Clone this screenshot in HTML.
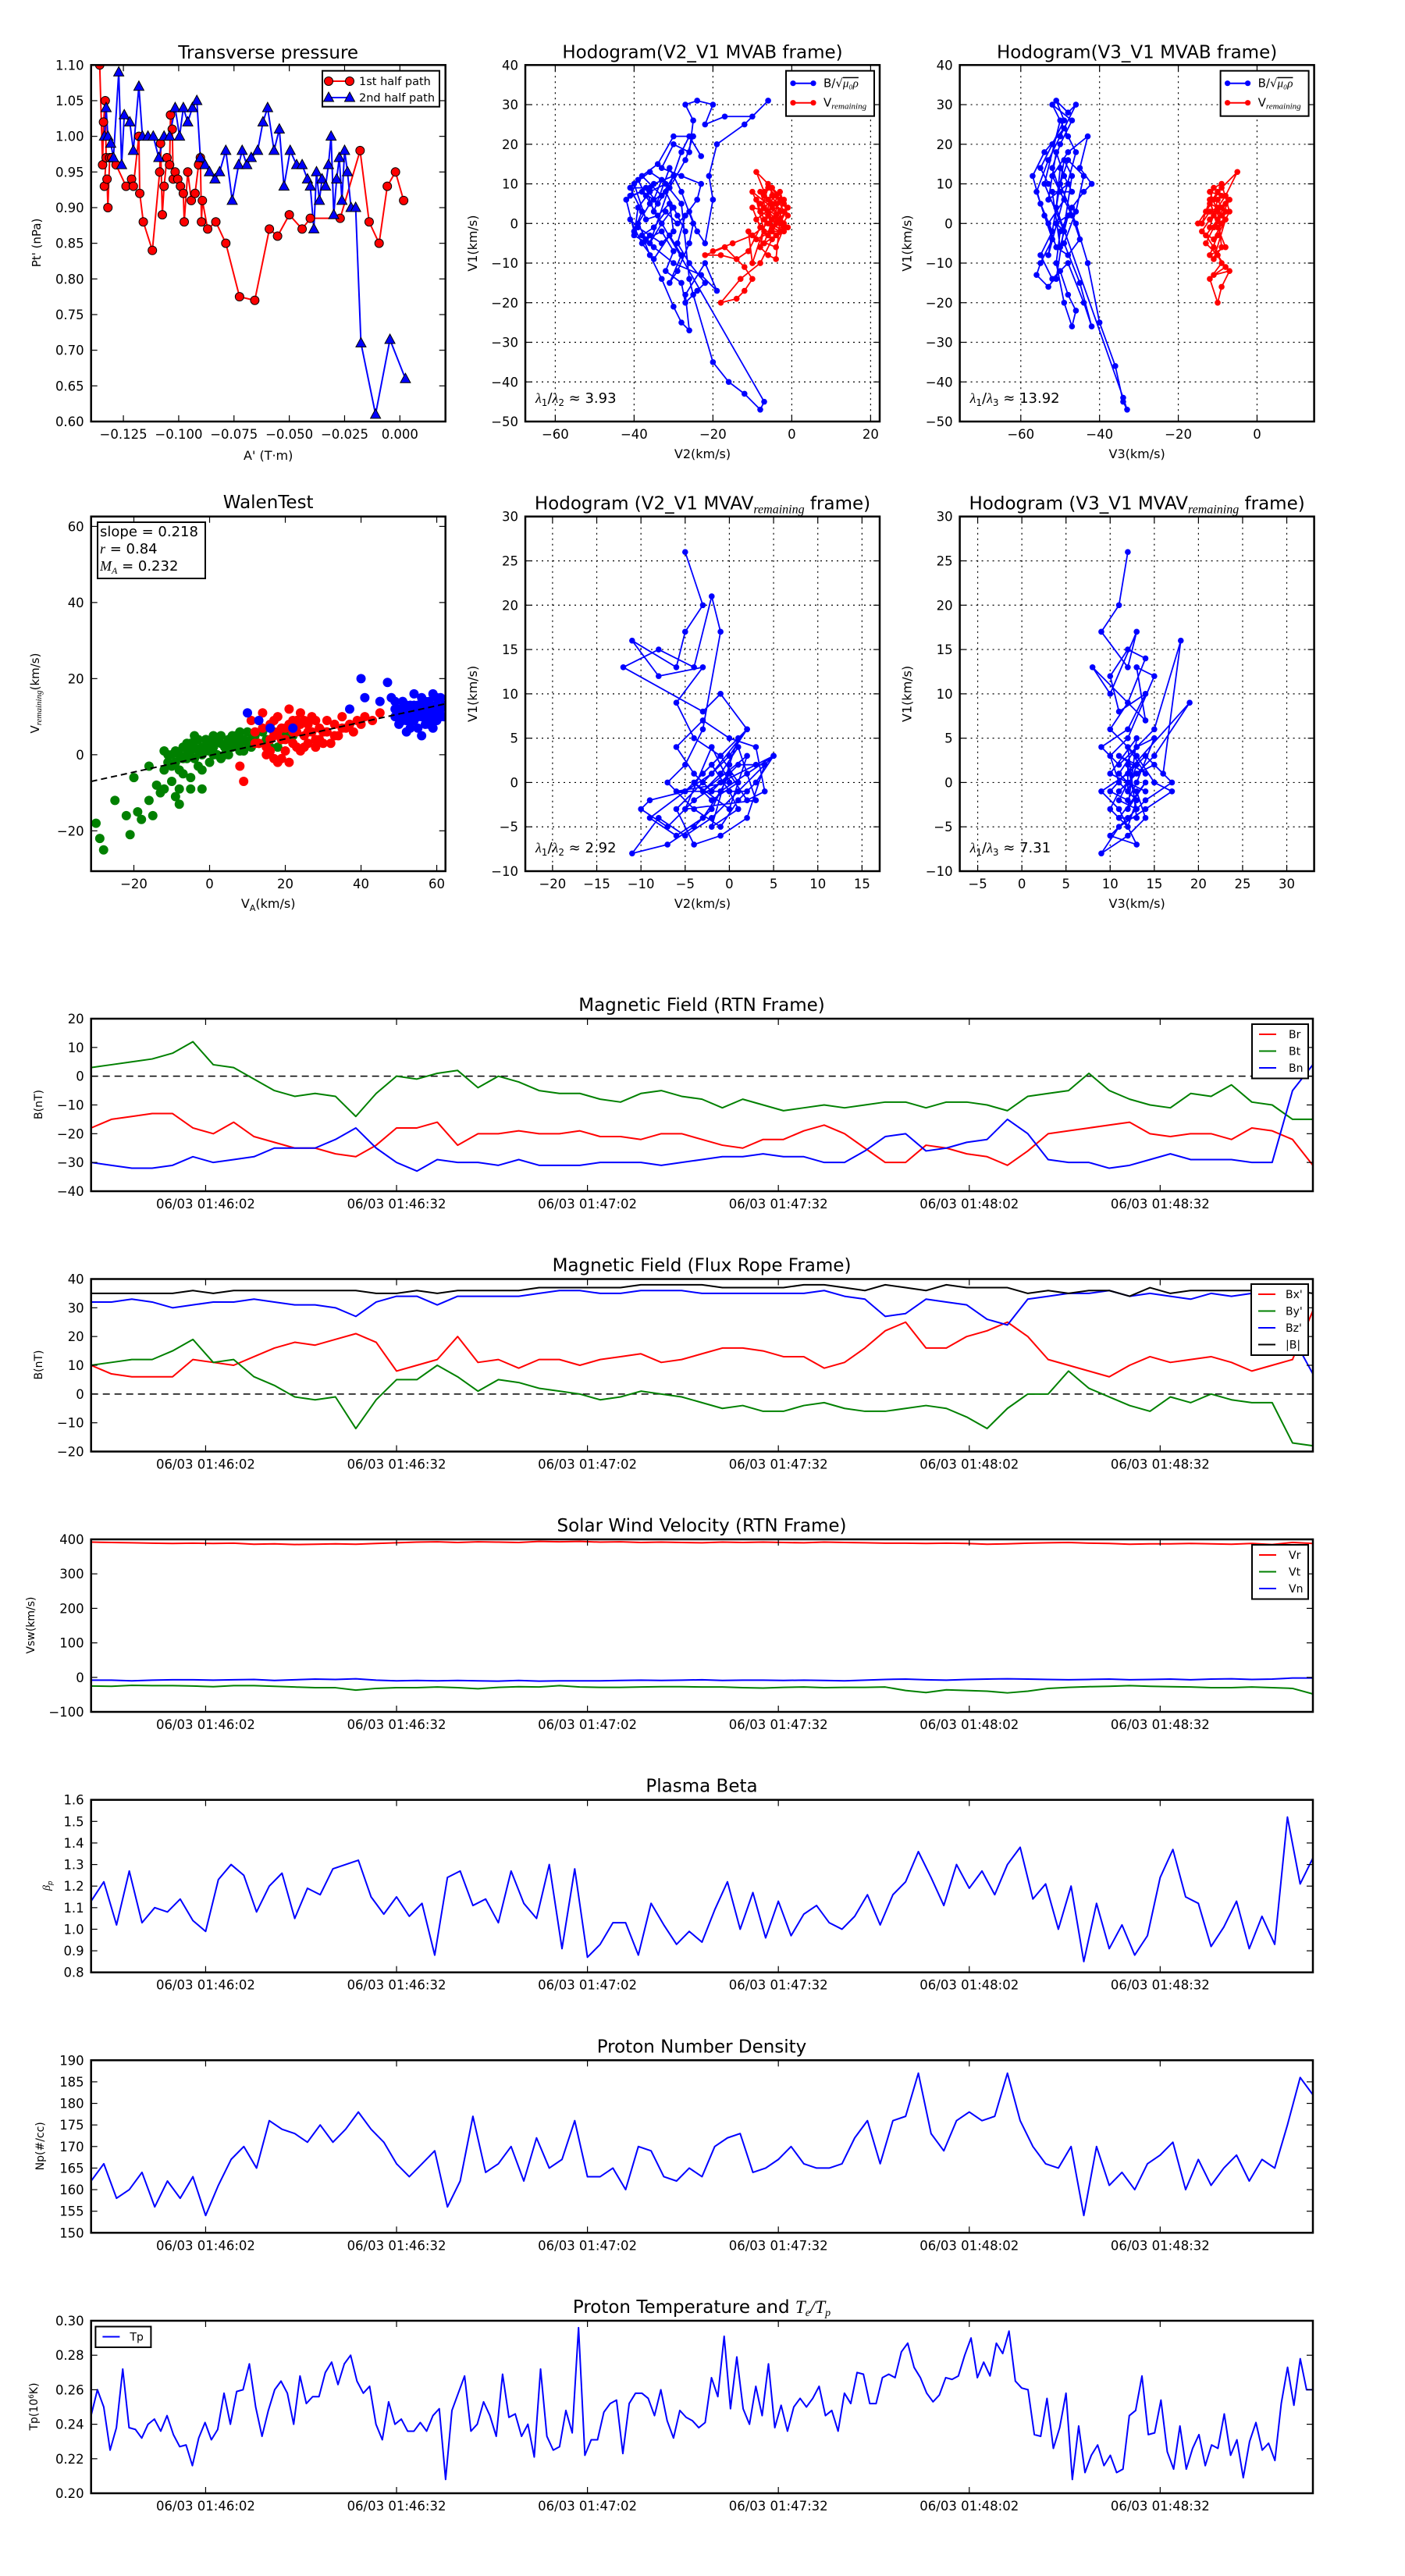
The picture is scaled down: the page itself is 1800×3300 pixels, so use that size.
<!DOCTYPE html>
<html><head><meta charset="utf-8"><title>Flux rope analysis</title>
<style>
html,body{margin:0;padding:0;background:#fff;}
svg{display:block;font-family:"DejaVu Sans","Liberation Sans",sans-serif;}
</style></head>
<body>
<svg id="fig" xmlns="http://www.w3.org/2000/svg" width="1800" height="3300" viewBox="0 0 1800 3300">
<rect x="0" y="0" width="1800" height="3300" fill="#fff"/>
</svg>
<script>
// ---------------- DATA ----------------
const ptA1=[-0.1357,-0.1344,-0.1340,-0.1332,-0.1328,-0.1336,-0.1324,-0.1320,-0.1312,-0.1303,-0.1283,-0.1238,-0.1213,-0.1205,-0.1180,-0.1176,-0.1160,-0.1119,-0.1086,-0.1082,-0.1074,-0.1066,-0.1053,-0.1041,-0.1037,-0.1029,-0.1025,-0.1016,-0.1004,-0.0992,-0.0979,-0.0975,-0.0959,-0.0943,-0.0926,-0.0910,-0.0902,-0.0897,-0.0893,-0.0869,-0.0832,-0.0787,-0.0725,-0.0656,-0.0590,-0.0553,-0.0500,-0.0442,-0.0405,-0.0270,-0.0180,-0.0139,-0.0094,-0.0057,-0.0020,0.0017];
const ptP1=[1.10,0.96,1.02,1.05,0.97,0.93,0.94,0.90,0.97,0.97,0.96,0.93,0.94,0.93,1.00,0.92,0.88,0.84,0.95,0.99,0.89,0.93,0.97,0.96,1.03,1.01,0.94,0.95,0.94,0.93,0.92,0.88,0.95,0.91,0.92,0.96,0.97,0.88,0.91,0.87,0.88,0.85,0.775,0.77,0.87,0.86,0.89,0.87,0.885,0.885,0.98,0.88,0.85,0.93,0.95,0.91];
const ptA2=[-0.1336,-0.1328,-0.1320,-0.1307,-0.1295,-0.1271,-0.1258,-0.1246,-0.1221,-0.1205,-0.1180,-0.1164,-0.1139,-0.1115,-0.1090,-0.1066,-0.1041,-0.1016,-0.0996,-0.0979,-0.0959,-0.0938,-0.0918,-0.0902,-0.0881,-0.0861,-0.0836,-0.0815,-0.0787,-0.0758,-0.0729,-0.0713,-0.0692,-0.0672,-0.0643,-0.0619,-0.0598,-0.0569,-0.0545,-0.0524,-0.0496,-0.0467,-0.0442,-0.0418,-0.0405,-0.0389,-0.0377,-0.0364,-0.0352,-0.0336,-0.0323,-0.0311,-0.0299,-0.0286,-0.0274,-0.0262,-0.0250,-0.0237,-0.0221,-0.0200,-0.0176,-0.0110,-0.0045,0.0025];
const ptP2=[1.00,1.04,1.00,0.99,0.97,1.09,0.96,1.03,1.02,0.98,1.07,1.00,1.00,1.00,0.97,1.00,1.00,1.04,1.00,1.04,1.02,1.04,1.05,0.97,0.96,0.95,0.94,0.95,0.98,0.91,0.96,0.98,0.96,0.97,0.98,1.02,1.04,0.98,1.01,0.93,0.98,0.96,0.96,0.94,0.93,0.87,0.95,0.91,0.94,0.93,0.96,1.00,0.89,0.94,0.97,0.91,0.98,0.95,0.90,0.90,0.71,0.61,0.715,0.66];
const ptXTicks=[-0.125,-0.100,-0.075,-0.050,-0.025,0.000];
const ptXLabels=["\u22120.125","\u22120.100","\u22120.075","\u22120.050","\u22120.025","0.000"];
const ptYTicks=[0.60,0.65,0.70,0.75,0.80,0.85,0.90,0.95,1.00,1.05,1.10];
const ptYLabels=["0.60","0.65","0.70","0.75","0.80","0.85","0.90","0.95","1.00","1.05","1.10"];

const h1B=[[-36,9],[-41,9],[-38,3],[-40,-2],[-42,6],[-35,10],[-30,12],[-33,7],[-38,12],[-34,15],[-30,22],[-25,22],[-27,16],[-31,9],[-36,5],[-39,0],[-37,-4],[-33,-2],[-30,-7],[-32,-12],[-28,-15],[-27,-20],[-24,-17],[-22,-15],[-26,-10],[-29,-5],[-27,2],[-24,6],[-23,10],[-28,12],[-33,14],[-30,20],[-26,18],[-25,26],[-27,30],[-24,31],[-20,30],[-22,25],[-17,27],[-10,27],[-6,31],[-12,25],[-19,20],[-21,12],[-20,6],[-22,-5],[-24,-2],[-26,3],[-29,0],[-32,3],[-35,-1],[-38,-3],[-36,-8],[-33,-14],[-30,-21],[-28,-25],[-26,-27],[-27,-18],[-22,-10],[-19,-17],[-23,-13],[-30,-10],[-35,-6],[-40,-3],[-39,4],[-36,8],[-32,10],[-28,5],[-26,-14],[-25,-18],[-20,-35],[-16,-40],[-12,-43],[-8,-47],[-7,-45],[-37,7],[-39,11],[-41,7],[-38,8],[-35,6],[-33,11],[-36,13],[-40,10],[-37,1],[-34,2],[-31,5],[-30,-2],[-33,-5],[-36,-3],[-39,-1],[-41,1],[-38,-5],[-35,-9],[-31,-3],[-28,-8],[-31,-15],[-29,-12],[-26,-5],[-25,0],[-28,8],[-31,14],[-35,3],[-37,9],[-34,5],[-32,8],[-29,2],[-27,-2],[-30,4],[-33,0],[-36,-5],[-28,18],[-26,22],[-23,17]];
const h1V=[[-20,-7],[-15,-5],[-10,-3],[-6,0],[-3,3],[-5,7],[-8,5],[-4,2],[-2,5],[-6,10],[-9,13],[-7,8],[-3,0],[-1,4],[-5,-2],[-9,-4],[-4,-6],[-2,-1],[-6,3],[-10,4],[-8,-1],[-11,-7],[-14,-9],[-18,-8],[-22,-8],[-17,-6],[-12,-11],[-10,-14],[-12,-17],[-14,-19],[-18,-20],[-13,-14],[-8,-10],[-5,-4],[-2,-2],[-7,1],[-10,8],[-5,4],[-3,8],[-1,2],[-4,-3],[-7,-5],[-3,6],[-6,9],[-8,3],[-2,0],[-4,5],[-9,1],[-6,-3],[-3,3],[-5,1],[-7,4],[-4,7],[-2,3],[-6,6],[-8,8],[-5,-1],[-3,-2],[-7,-2],[-9,6],[-4,0],[-6,2],[-2,6],[-5,9],[-8,-6],[-6,-8],[-4,-9],[-3,1],[-1,-1],[-7,7],[-5,5],[-10,-10],[-11,-2]];
const h2B=[[-53,10],[-55,14],[-52,20],[-49,26],[-51,31],[-48,28],[-46,30],[-50,22],[-53,16],[-56,8],[-54,2],[-52,-4],[-55,-10],[-56,-13],[-53,-16],[-50,-12],[-48,-18],[-46,-22],[-47,-26],[-49,-20],[-51,-10],[-50,-2],[-47,4],[-44,8],[-42,10],[-45,14],[-43,22],[-48,18],[-52,12],[-49,6],[-53,0],[-51,-6],[-48,-8],[-45,-4],[-47,2],[-50,8],[-52,14],[-50,20],[-47,26],[-52,30],[-49,24],[-54,18],[-57,12],[-55,5],[-52,-2],[-55,-8],[-52,-14],[-48,-10],[-44,-20],[-42,-26],[-45,-15],[-49,-5],[-46,3],[-44,12],[-48,16],[-50,10],[-46,0],[-43,-10],[-40,-25],[-36,-36],[-34,-45],[-33,-47],[-34,-44],[-51,4],[-50,14],[-48,10],[-53,6],[-51,18],[-49,12],[-47,8],[-52,8],[-50,-6],[-48,2],[-51,0],[-49,-2],[-54,10],[-50,26],[-48,22],[-46,18],[-53,-8],[-49,16],[-47,12],[-51,-14]];
const h2V=[[-15,0],[-13,3],[-11,6],[-9,9],[-5,13],[-8,7],[-10,4],[-12,1],[-14,-2],[-11,-4],[-9,0],[-8,3],[-12,5],[-10,8],[-7,6],[-9,2],[-11,-1],[-13,-5],[-10,-8],[-8,-11],[-11,-13],[-7,-12],[-9,-16],[-10,-20],[-12,-14],[-9,-10],[-11,-6],[-13,-3],[-10,1],[-8,5],[-12,3],[-14,0],[-11,9],[-9,10],[-7,3],[-10,-3],[-12,-8],[-8,-6],[-10,-1],[-12,6],[-11,2],[-9,4],[-10,6],[-12,-1],[-8,1],[-11,-9],[-9,-6],[-10,3],[-12,8],[-9,7]];
const h3=[[-5,26],[-3,20],[-5,17],[-6,13],[-11,16],[-8,12],[-3,13],[-6,9],[-4,5],[-1,3],[2,6],[-2,1],[-5,-1],[-9,-2],[-10,-3],[-7,-5],[-4,-2],[-1,0],[3,2],[5,3],[1,-1],[-2,-4],[-5,-6],[-8,-4],[-11,-8],[-7,-7],[-4,-5],[-2,-3],[0,1],[2,-2],[4,-1],[3,4],[0,5],[-3,7],[-6,4],[-4,1],[-2,-1],[1,2],[4,2],[2,-4],[-1,-6],[-4,-7],[-6,-3],[-3,0],[0,3],[2,6],[-1,10],[-3,8],[-12,13],[-8,15],[-4,13],[-2,21],[-1,17],[-3,6],[-5,2],[-7,0],[-4,-3],[-1,-5],[1,-2],[3,0],[5,3],[2,1],[-1,-1],[-3,-4],[-6,-6],[-9,-4],[-5,-1],[-2,2],[0,-1],[1,-3],[-2,-5],[0,2],[1,5],[-3,1],[-1,3],[1,0],[-2,-2],[-4,0],[0,-3],[2,3],[-3,-1],[-1,1],[1,4],[3,-2],[-5,-3],[-2,4],[0,0],[-6,-1],[2,-1]];
const h4=[[12,26],[11,20],[9,17],[12,13],[13,17],[10,10],[8,13],[12,9],[14,7],[13,13],[15,12],[12,5],[10,3],[11,0],[13,-2],[12,-5],[10,-3],[11,-1],[13,1],[15,2],[17,0],[14,-2],[12,-4],[10,-6],[13,-7],[11,-3],[9,-1],[12,1],[14,3],[16,1],[18,16],[15,6],[13,4],[11,2],[9,4],[12,6],[14,10],[11,8],[10,12],[12,15],[14,14],[12,9],[10,6],[13,3],[15,0],[17,-1],[14,-3],[11,-5],[9,-8],[12,-6],[14,-4],[13,-1],[11,1],[13,4],[15,5],[13,0],[12,-2],[10,-1],[19,9],[15,3],[12,0],[11,-2],[13,-3],[12,2],[12,-1],[13,2],[11,3],[14,1],[12,4],[13,-4],[11,-4],[14,0],[12,-3],[13,5],[10,1],[14,-1]];
const walenGreen=[[-30,-18],[-29,-22],[-28,-25],[-25,-12],[-22,-16],[-21,-21],[-19,-15],[-18,-17],[-16,-12],[-15,-16],[-14,-8],[-13,-10],[-12,-4],[-12,1],[-11,0],[-10,-3],[-10,-7],[-9,-2],[-9,-11],[-8,-9],[-8,0],[-7,2],[-7,-5],[-6,-1],[-6,3],[-5,1],[-5,-6],[-4,-1],[-4,2],[-3,4],[-3,-3],[-2,0],[-2,-4],[-1,1],[0,3],[0,-2],[1,2],[1,5],[2,0],[3,3],[3,-1],[4,2],[5,4],[5,0],[6,2],[7,5],[8,3],[8,1],[9,4],[10,3],[10,6],[11,2],[12,5],[13,3],[14,6],[15,4],[16,2],[17,6],[18,2],[19,4],[20,6],[22,5],[-20,-6],[-16,-3],[-12,-9],[-2,-9],[-8,-13],[-5,-9],[-9,1],[-7,-1],[-5,3],[-3,1],[-1,4],[1,0],[3,5],[5,2],[7,3],[9,1],[-11,-2],[-6,0],[-4,5],[0,1],[2,4],[4,0],[6,5],[-8,-4],[-10,0],[-2,2],[8,6],[11,4]];
const walenRed=[[8,-3],[9,-7],[11,9],[12,6],[13,3],[14,11],[15,2],[16,8],[17,-1],[17,5],[18,10],[18,-2],[19,4],[20,7],[20,1],[21,12],[21,-2],[22,3],[23,9],[23,6],[24,1],[25,5],[26,8],[26,3],[27,10],[28,4],[29,7],[30,6],[31,9],[32,3],[33,8],[34,5],[35,10],[36,7],[37,8],[38,6],[39,9],[40,8],[41,10],[43,9],[45,11],[15,0],[19,-1],[22,9],[24,11],[28,9],[30,3],[12,3],[16,4],[25,2],[14,7],[17,9],[19,7],[20,4],[22,6],[23,2],[24,8],[25,9],[27,6],[29,4],[31,6],[33,5],[35,7],[18,6],[16,1],[21,8],[26,6],[28,2]];
const walenBlue=[[10,11],[13,9],[16,7],[22,7],[37,12],[40,20],[41,15],[45,14],[47,19],[48,15],[49,10],[50,12],[50,8],[51,14],[52,11],[52,6],[53,13],[53,9],[54,16],[54,11],[55,7],[55,13],[56,10],[56,15],[57,12],[57,8],[58,14],[58,10],[59,11],[59,16],[60,9],[60,13],[61,12],[61,15],[62,10],[62,13],[56,5],[51,9],[59,7],[49,14],[50,10],[51,11],[52,13],[53,11],[54,9],[55,10],[56,12],[57,10],[58,12],[59,9],[60,11],[61,10],[54,13],[52,9],[57,14],[53,7],[55,11],[58,8],[60,15],[49,12]];
const walenSlope=0.218, walenIntercept=-0.2;

const timeTicks=[18,48,78,108,138,168];
const timeLabels=["06/03 01:46:02","06/03 01:46:32","06/03 01:47:02","06/03 01:47:32","06/03 01:48:02","06/03 01:48:32"];
const Br=[-18,-15,-14,-13,-13,-18,-20,-16,-21,-23,-25,-25,-27,-28,-24,-18,-18,-16,-24,-20,-20,-19,-20,-20,-19,-21,-21,-22,-20,-20,-22,-24,-25,-22,-22,-19,-17,-20,-25,-30,-30,-24,-25,-27,-28,-31,-26,-20,-19,-18,-17,-16,-20,-21,-20,-20,-22,-18,-19,-22,-31];
const Bt=[3,4,5,6,8,12,4,3,-1,-5,-7,-6,-7,-14,-6,0,-1,1,2,-4,0,-2,-5,-6,-6,-8,-9,-6,-5,-7,-8,-11,-8,-10,-12,-11,-10,-11,-10,-9,-9,-11,-9,-9,-10,-12,-7,-6,-5,1,-5,-8,-10,-11,-6,-7,-3,-9,-10,-15,-15];
const Bn=[-30,-31,-32,-32,-31,-28,-30,-29,-28,-25,-25,-25,-22,-18,-25,-30,-33,-29,-30,-30,-31,-29,-31,-31,-31,-30,-30,-30,-31,-30,-29,-28,-28,-27,-28,-28,-30,-30,-26,-21,-20,-26,-25,-23,-22,-15,-20,-29,-30,-30,-32,-31,-29,-27,-29,-29,-29,-30,-30,-5,4];
const Bx=[10,7,6,6,6,12,11,10,13,16,18,17,19,21,18,8,10,12,20,11,12,9,12,12,10,12,13,14,11,12,14,16,16,15,13,13,9,11,16,22,25,16,16,20,22,25,20,12,10,8,6,10,13,11,12,13,11,8,10,12,29];
const By=[10,11,12,12,15,19,11,12,6,3,-1,-2,-1,-12,-2,5,5,10,6,1,5,4,2,1,0,-2,-1,1,0,-1,-3,-5,-4,-6,-6,-4,-3,-5,-6,-6,-5,-4,-5,-8,-12,-5,0,0,8,2,-1,-4,-6,-1,-3,0,-2,-3,-3,-17,-18];
const Bz=[32,32,33,32,30,31,32,32,33,32,31,31,30,27,32,34,34,31,34,34,34,34,35,36,36,35,35,36,36,36,35,35,35,35,35,35,36,34,33,27,28,33,32,31,26,24,33,34,35,35,36,34,35,34,33,35,34,35,35,20,7];
const Bmag=[35,35,35,35,35,36,35,36,36,36,36,36,36,36,35,35,36,35,36,36,36,36,37,37,37,37,37,38,38,38,38,37,37,37,37,38,38,37,36,38,37,36,38,37,37,37,35,36,35,36,36,34,37,35,36,36,36,36,36,36,35];
const Vr=[392,391,390,389,388,389,388,389,386,387,385,386,387,386,388,390,392,393,391,393,392,391,394,393,394,392,393,391,392,391,390,392,391,392,391,390,392,391,390,389,389,388,389,388,386,387,389,390,391,389,388,386,387,387,388,387,386,388,385,391,388];
const Vt=[-25,-26,-23,-24,-24,-25,-27,-24,-24,-26,-28,-30,-30,-37,-32,-30,-30,-28,-30,-33,-29,-27,-28,-24,-28,-29,-29,-28,-27,-27,-28,-28,-30,-31,-29,-28,-30,-29,-29,-28,-38,-44,-36,-38,-40,-45,-40,-32,-29,-27,-26,-24,-26,-27,-28,-30,-30,-28,-30,-32,-48];
const Vn=[-8,-8,-10,-8,-7,-7,-8,-7,-6,-9,-7,-5,-6,-4,-8,-10,-9,-10,-9,-10,-11,-9,-11,-10,-10,-10,-9,-8,-9,-8,-7,-9,-8,-8,-9,-8,-9,-10,-8,-6,-5,-7,-8,-6,-5,-4,-5,-6,-7,-6,-5,-7,-6,-5,-7,-5,-4,-6,-5,-2,-2];
const beta=[1.13,1.22,1.02,1.27,1.03,1.10,1.08,1.14,1.04,0.99,1.23,1.30,1.25,1.08,1.20,1.26,1.05,1.19,1.16,1.28,1.30,1.32,1.15,1.07,1.15,1.06,1.12,0.88,1.24,1.27,1.11,1.14,1.03,1.27,1.12,1.05,1.30,0.91,1.28,0.87,0.93,1.03,1.03,0.88,1.12,1.02,0.93,0.99,0.94,1.09,1.22,1.00,1.17,0.96,1.13,0.97,1.07,1.11,1.03,1.00,1.06,1.16,1.02,1.16,1.22,1.36,1.24,1.11,1.30,1.19,1.27,1.16,1.30,1.38,1.14,1.21,1.00,1.20,0.85,1.12,0.91,1.02,0.88,0.97,1.24,1.37,1.15,1.12,0.92,1.01,1.13,0.91,1.06,0.93,1.52,1.21,1.33];
const density=[162,166,158,160,164,156,162,158,163,154,161,167,170,165,176,174,173,171,175,171,174,178,174,171,166,163,166,169,156,162,177,164,166,170,162,172,165,167,176,163,163,165,160,170,169,163,162,165,163,170,172,173,164,165,167,170,166,165,165,166,172,176,166,176,177,187,173,169,176,178,176,177,187,176,170,166,165,170,154,170,161,164,160,166,168,171,160,167,161,165,168,162,167,165,175,186,182];
const tp=[0.245,0.26,0.25,0.225,0.238,0.272,0.238,0.237,0.232,0.240,0.243,0.236,0.245,0.234,0.227,0.228,0.216,0.232,0.241,0.231,0.237,0.258,0.240,0.259,0.26,0.275,0.25,0.233,0.248,0.26,0.265,0.258,0.24,0.268,0.252,0.256,0.256,0.27,0.276,0.263,0.275,0.28,0.265,0.258,0.262,0.24,0.231,0.253,0.24,0.243,0.236,0.236,0.241,0.236,0.245,0.249,0.208,0.248,0.258,0.268,0.236,0.24,0.253,0.245,0.233,0.269,0.244,0.246,0.233,0.24,0.221,0.272,0.233,0.225,0.227,0.248,0.235,0.296,0.222,0.231,0.231,0.247,0.252,0.254,0.223,0.252,0.258,0.258,0.255,0.245,0.26,0.242,0.232,0.248,0.244,0.242,0.238,0.241,0.267,0.256,0.291,0.249,0.279,0.249,0.24,0.262,0.245,0.275,0.238,0.251,0.236,0.25,0.255,0.25,0.255,0.262,0.245,0.248,0.236,0.258,0.252,0.27,0.269,0.252,0.252,0.267,0.269,0.267,0.282,0.287,0.273,0.267,0.258,0.253,0.257,0.267,0.266,0.268,0.28,0.29,0.267,0.276,0.268,0.287,0.281,0.294,0.265,0.261,0.26,0.234,0.233,0.255,0.226,0.238,0.258,0.208,0.239,0.212,0.222,0.228,0.216,0.222,0.212,0.214,0.245,0.248,0.268,0.234,0.235,0.254,0.224,0.214,0.239,0.214,0.226,0.234,0.216,0.228,0.226,0.246,0.222,0.231,0.209,0.23,0.241,0.225,0.229,0.219,0.252,0.273,0.251,0.278,0.26,0.26];

// ---------------- DRAWING ----------------
const NS='http://www.w3.org/2000/svg';
const svg=document.getElementById('fig');
function mk(tag,attrs,parent){const e=document.createElementNS(NS,tag);for(const k in attrs)e.setAttribute(k,attrs[k]);(parent||svg).appendChild(e);return e;}
function txt(str,attrs,parent){const e=mk('text',attrs,parent);e.textContent=str;return e;}
let clipN=0;
function fmtRange(a,b,s){const r=[];for(let v=a;v<=b+1e-9;v+=s)r.push(+v.toFixed(6));return r;}

function axes(o){
  const g=mk('g',{});
  
  
  const sx=v=>o.x+(v-o.xmin)/(o.xmax-o.xmin)*o.w;
  const sy=v=>o.y+o.h-(v-o.ymin)/(o.ymax-o.ymin)*o.h;
  if(o.grid){
    o.xticks.forEach(v=>{const l=mk('line',{x1:sx(v),x2:sx(v),y1:o.y,y2:o.y+o.h,stroke:'#000','stroke-width':1.2,'stroke-dasharray':'2,5'},g);
      
      });
    o.yticks.forEach(v=>{const l=mk('line',{x1:o.x,x2:o.x+o.w,y1:sy(v),y2:sy(v),stroke:'#000','stroke-width':1.2,'stroke-dasharray':'2,5'},g);
      
      });
  }
  const id='clip'+(clipN++);
  const cp=mk('clipPath',{id:id},g);
  mk('rect',{x:o.x,y:o.y,width:o.w,height:o.h},cp);
  const plot=mk('g',{'clip-path':'url(#'+id+')'},g);
  
  
  return {g,plot,sx,sy,o};
}
function finish(ax){
  const o=ax.o,g=ax.g;
  const fr=mk('rect',{x:o.x,y:o.y,width:o.w,height:o.h,fill:'none',stroke:'#000','stroke-width':2.5},g);
  
  
  o.xticks.forEach((v,i)=>{
    const X=ax.sx(v);
    mk('line',{x1:X,x2:X,y1:o.y+o.h,y2:o.y+o.h-8,stroke:'#000','stroke-width':1.2},g);
    mk('line',{x1:X,x2:X,y1:o.y,y2:o.y+8,stroke:'#000','stroke-width':1.2},g);
    const t=txt(o.xlabels[i],{x:X,y:o.y+o.h+22,'text-anchor':'middle','font-size':o.tfs||16.5},g);
    
    
  });
  o.yticks.forEach((v,i)=>{
    const Y=ax.sy(v);
    mk('line',{x1:o.x,x2:o.x+8,y1:Y,y2:Y,stroke:'#000','stroke-width':1.2},g);
    mk('line',{x1:o.x+o.w,x2:o.x+o.w-8,y1:Y,y2:Y,stroke:'#000','stroke-width':1.2},g);
    const t=txt(o.ylabels[i],{x:o.x-9,y:Y+6,'text-anchor':'end','font-size':o.tfs||16.5},g);
    
    
  });
}
function title(str,x,y,parent){const t=txt('',{x:x,y:y,'text-anchor':'middle','font-size':23},parent);t.innerHTML=str;return t;}
function ylab(str,x,yc,fs,parent){const t=txt('',{x:0,y:0,'text-anchor':'middle','font-size':fs,transform:'translate('+x+','+yc+') rotate(-90)'},parent);t.innerHTML=str;return t;}
function polyline(ax,xs,ys,color,w){
  let d='';for(let i=0;i<xs.length;i++)d+=(i?'L':'M')+ax.sx(xs[i]).toFixed(2)+','+ax.sy(ys[i]).toFixed(2);
  return mk('path',{d:d,fill:'none',stroke:color,'stroke-width':w,'stroke-linejoin':'round'},ax.plot);
}

// ===== Transverse pressure =====
{
  const ax=axes({name:'transverse-pressure-chart',x:116.7,y:83.3,w:454,h:456.7,xmin:-0.1396,xmax:0.0206,ymin:0.6,ymax:1.1,xticks:ptXTicks,xlabels:ptXLabels,yticks:ptYTicks,ylabels:ptYLabels});
  const l1=polyline(ax,ptA1,ptP1,'#f00',2);
  
  
  const l2=polyline(ax,ptA2,ptP2,'#00f',2);
  
  
  ptA1.forEach((a,i)=>{const c=mk('circle',{cx:ax.sx(a),cy:ax.sy(ptP1[i]),r:5.5,fill:'#f00',stroke:'#000','stroke-width':1},ax.plot);
    
    });
  ptA2.forEach((a,i)=>{const X=ax.sx(a),Y=ax.sy(ptP2[i]);const p=mk('polygon',{points:(X)+','+(Y-7)+' '+(X-6.5)+','+(Y+5)+' '+(X+6.5)+','+(Y+5),fill:'#00f',stroke:'#000','stroke-width':1},ax.plot);
    
    });
  finish(ax);
  const tt=title('Transverse pressure',343.7,75,ax.g);
  
  
  const yl=ylab("Pt' (nPa)",52,311,15,ax.g);
  
  
  const xl=txt("A' (T\u00b7m)",{x:343.7,y:589,'text-anchor':'middle','font-size':16},ax.g);
  
  
  const lg=mk('g',{},ax.g);
  
  
  mk('rect',{x:413,y:90.7,width:150,height:46,fill:'#fff',stroke:'#000','stroke-width':2},lg);
  mk('line',{x1:421,x2:448,y1:104,y2:104,stroke:'#f00','stroke-width':2},lg);
  mk('circle',{cx:421,cy:104,r:5.5,fill:'#f00',stroke:'#000'},lg);
  mk('circle',{cx:448,cy:104,r:5.5,fill:'#f00',stroke:'#000'},lg);
  const e1=txt('1st half path',{x:460,y:109,'font-size':14.5},lg);
  
  
  mk('line',{x1:421,x2:448,y1:125,y2:125,stroke:'#00f','stroke-width':2},lg);
  mk('polygon',{points:'421,118 414.5,130 427.5,130',fill:'#00f',stroke:'#000'},lg);
  mk('polygon',{points:'448,118 441.5,130 454.5,130',fill:'#00f',stroke:'#000'},lg);
  const e2=txt('2nd half path',{x:460,y:130,'font-size':14.5},lg);
  
  
}

// ===== Hodograms =====
function hodo(cfg){
  const ax=axes({name:cfg.name,x:cfg.x,y:cfg.y,w:454,h:cfg.h,xmin:cfg.xmin,xmax:cfg.xmax,ymin:cfg.ymin,ymax:cfg.ymax,xticks:cfg.xt,xlabels:cfg.xt.map(v=>v<0?'\u2212'+(-v):''+v),yticks:cfg.yt,ylabels:cfg.yt.map(v=>v<0?'\u2212'+(-v):''+v),grid:true});
  cfg.series.forEach(s=>{
    const l=polyline(ax,s.pts.map(p=>p[0]),s.pts.map(p=>p[1]),s.color,1.8);
    
    
    s.pts.forEach(p=>{const c=mk('circle',{cx:ax.sx(p[0]),cy:ax.sy(p[1]),r:3.8,fill:s.color},ax.plot);
      
      });
  });
  finish(ax);
  const tt=title(cfg.title,cfg.x+227,cfg.y-9,ax.g);
  
  
  const yl=ylab('V1(km/s)',cfg.x-62,cfg.y+cfg.h/2,16,ax.g);
  
  
  const xl=txt(cfg.xlabel,{x:cfg.x+227,y:cfg.y+cfg.h+47,'text-anchor':'middle','font-size':16},ax.g);
  
  
  const an=txt('',{x:cfg.x+13,y:cfg.y+cfg.h-24,'font-size':18},ax.g);
  an.innerHTML='<tspan font-family="Liberation Serif,serif" font-style="italic">\u03bb</tspan><tspan font-size="12" dy="4">1</tspan><tspan dy="-4">/</tspan><tspan font-family="Liberation Serif,serif" font-style="italic">\u03bb</tspan><tspan font-size="12" dy="4">'+cfg.k+'</tspan><tspan dy="-4"> \u2248 '+cfg.ratio+'</tspan>';
  
  
  if(cfg.legend){
    const lx=cfg.x+334,ly=cfg.y+7.4;
    const lg=mk('g',{},ax.g);
    
    
    mk('rect',{x:lx,y:ly,width:113,height:58,fill:'#fff',stroke:'#000','stroke-width':2},lg);
    mk('line',{x1:lx+9,x2:lx+35,y1:ly+16,y2:ly+16,stroke:'#00f','stroke-width':2},lg);
    mk('circle',{cx:lx+9,cy:ly+16,r:3.6,fill:'#00f'},lg);
    mk('circle',{cx:lx+35,cy:ly+16,r:3.6,fill:'#00f'},lg);
    const a=txt('',{x:lx+48,y:ly+21,'font-size':15},lg);
    a.innerHTML='B/\u221a<tspan font-family="Liberation Serif,serif" font-style="italic" text-decoration="overline">\u03bc\u2080\u03c1</tspan>';
    
    
    mk('line',{x1:lx+9,x2:lx+35,y1:ly+41,y2:ly+41,stroke:'#f00','stroke-width':2},lg);
    mk('circle',{cx:lx+9,cy:ly+41,r:3.6,fill:'#f00'},lg);
    mk('circle',{cx:lx+35,cy:ly+41,r:3.6,fill:'#f00'},lg);
    const b=txt('',{x:lx+48,y:ly+46,'font-size':15},lg);
    b.innerHTML='V<tspan font-family="Liberation Serif,serif" font-style="italic" font-size="11" dy="3">remaining</tspan>';
    
    
  }
}
const SUBREM='<tspan font-family="Liberation Serif,serif" font-style="italic" font-size="16" dy="5">remaining</tspan><tspan dy="-5">';
hodo({name:'hodogram-v2-v1-mvab',x:673,y:83.3,h:456.7,xmin:-67.6,xmax:22.3,ymin:-50,ymax:40,xt:[-60,-40,-20,0,20],yt:fmtRange(-50,40,10),series:[{pts:h1B,color:'#00f',nm:'b-field'},{pts:h1V,color:'#f00',nm:'v-remaining'}],title:'Hodogram(V2_V1 MVAB frame)',xlabel:'V2(km/s)',k:'2',ratio:'3.93',legend:true});
hodo({name:'hodogram-v3-v1-mvab',x:1229.6,y:83.3,h:456.7,xmin:-75.5,xmax:14.5,ymin:-50,ymax:40,xt:[-60,-40,-20,0],yt:fmtRange(-50,40,10),series:[{pts:h2B,color:'#00f',nm:'b-field'},{pts:h2V,color:'#f00',nm:'v-remaining'}],title:'Hodogram(V3_V1 MVAB frame)',xlabel:'V3(km/s)',k:'3',ratio:'13.92',legend:true});
hodo({name:'hodogram-v2-v1-mvav',x:673,y:661.7,h:454.3,xmin:-23.08,xmax:17.0,ymin:-10,ymax:30,xt:fmtRange(-20,15,5),yt:fmtRange(-10,30,5),series:[{pts:h3,color:'#00f',nm:'velocity'}],title:'Hodogram (V2_V1 MVAV'+SUBREM+' frame)</tspan>',xlabel:'V2(km/s)',k:'2',ratio:'2.92',legend:false});
hodo({name:'hodogram-v3-v1-mvav',x:1229.6,y:661.7,h:454.3,xmin:-7.03,xmax:33.1,ymin:-10,ymax:30,xt:fmtRange(-5,30,5),yt:fmtRange(-10,30,5),series:[{pts:h4,color:'#00f',nm:'velocity'}],title:'Hodogram (V3_V1 MVAV'+SUBREM+' frame)</tspan>',xlabel:'V3(km/s)',k:'3',ratio:'7.31',legend:false});

// ===== Walen test =====
{
  const wy=[-20,0,20,40,60];
  const ax=axes({name:'walen-test-chart',x:116.7,y:661.7,w:454,h:454.3,xmin:-31.3,xmax:62.3,ymin:-30.6,ymax:62.6,xticks:[-20,0,20,40,60],xlabels:['\u221220','0','20','40','60'],yticks:wy,ylabels:['\u221220','0','20','40','60']});
  [[walenGreen,'#008000','green'],[walenRed,'#f00','red'],[walenBlue,'#00f','blue']].forEach(s=>{
    s[0].forEach(p=>{const c=mk('circle',{cx:ax.sx(p[0]),cy:ax.sy(p[1]),r:6,fill:s[1]},ax.plot);
      
      });
  });
  const fl=mk('line',{x1:ax.sx(-31.3),y1:ax.sy(walenSlope*-31.3+walenIntercept),x2:ax.sx(62.3),y2:ax.sy(walenSlope*62.3+walenIntercept),stroke:'#000','stroke-width':2,'stroke-dasharray':'8,5'},ax.plot);
  
  
  finish(ax);
  const tt=title('WalenTest',343.7,651,ax.g);
  
  
  const yl=ylab('V<tspan font-family="Liberation Serif,serif" font-style="italic" font-size="11" dy="3">remaining</tspan><tspan dy="-3">(km/s)</tspan>',50,888,15,ax.g);
  
  
  const xl=txt('',{x:343.7,y:1163,'text-anchor':'middle','font-size':16},ax.g);
  xl.innerHTML='V<tspan font-size="11" dy="4">A</tspan><tspan dy="-4">(km/s)</tspan>';
  
  
  const bx=mk('g',{},ax.g);
  
  
  mk('rect',{x:125,y:669,width:138,height:72,fill:'#fff',stroke:'#000','stroke-width':2},bx);
  txt('slope = 0.218',{x:128,y:687,'font-size':18},bx);
  const r=txt('',{x:128,y:709,'font-size':18},bx);
  r.innerHTML='<tspan font-family="Liberation Serif,serif" font-style="italic">r</tspan> = 0.84';
  const m=txt('',{x:128,y:731,'font-size':18},bx);
  m.innerHTML='<tspan font-family="Liberation Serif,serif" font-style="italic">M</tspan><tspan font-family="Liberation Serif,serif" font-style="italic" font-size="12" dy="4">A</tspan><tspan dy="-4"> = 0.232</tspan>';
}

// ===== Time series =====
function tsPanel(cfg){
  const ax=axes({name:cfg.name,x:116.7,y:cfg.y,w:1565.3,h:221,xmin:0,xmax:192,ymin:cfg.ymin,ymax:cfg.ymax,xticks:timeTicks,xlabels:timeLabels,yticks:cfg.yt,ylabels:cfg.yl});
  if(cfg.zero){
    const z=mk('line',{x1:ax.sx(0),x2:ax.sx(192),y1:ax.sy(0),y2:ax.sy(0),stroke:'#000','stroke-width':1.5,'stroke-dasharray':'9,6'},ax.plot);
    
    
  }
  cfg.series.forEach(s=>{
    const n=s.v.length;
    const xs=s.v.map((_,i)=>i/(n-1)*192);
    const l=polyline(ax,xs,s.v,s.c,2);
    
    
  });
  finish(ax);
  const tt=title(cfg.title,899,cfg.y-10,ax.g);
  
  
  const yl=ylab(cfg.ylabel,cfg.ylx||54,cfg.y+110,14,ax.g);
  
  
  if(cfg.legend){
    const L=cfg.legend;const lg=mk('g',{},ax.g);
    
    
    const h=L.items.length*21.5+5;
    mk('rect',{x:L.x,y:L.y,width:L.w,height:h,fill:'#fff',stroke:'#000','stroke-width':2},lg);
    L.items.forEach((it,i)=>{
      const yy=L.y+13+i*21.5;
      mk('line',{x1:L.x+9,x2:L.x+31,y1:yy,y2:yy,stroke:it[1],'stroke-width':2},lg);
      const t=txt(it[0],{x:L.x+L.tx,y:yy+5,'font-size':14},lg);
      
      
    });
  }
}
tsPanel({name:'magnetic-field-rtn-chart',y:1305,ymin:-40,ymax:20,yt:fmtRange(-40,20,10),yl:['\u221240','\u221230','\u221220','\u221210','0','10','20'],zero:true,title:'Magnetic Field (RTN Frame)',ylabel:'B(nT)',
  series:[{v:Br,c:'#f00',nm:'br'},{v:Bt,c:'#008000',nm:'bt'},{v:Bn,c:'#00f',nm:'bn'}],
  legend:{x:1604,y:1312,w:72,tx:47,items:[['Br','#f00'],['Bt','#008000'],['Bn','#00f']]}});
tsPanel({name:'magnetic-field-flux-rope-chart',y:1638.5,ymin:-20,ymax:40,yt:fmtRange(-20,40,10),yl:['\u221220','\u221210','0','10','20','30','40'],zero:true,title:'Magnetic Field (Flux Rope Frame)',ylabel:'B(nT)',
  series:[{v:Bx,c:'#f00',nm:'bx'},{v:By,c:'#008000',nm:'by'},{v:Bz,c:'#00f',nm:'bz'},{v:Bmag,c:'#000',nm:'b-magnitude'}],
  legend:{x:1603,y:1645,w:73,tx:44,items:[["Bx'",'#f00'],["By'",'#008000'],["Bz'",'#00f'],['|B|','#000']]}});
tsPanel({name:'solar-wind-velocity-chart',y:1972,ymin:-100,ymax:400,yt:fmtRange(-100,400,100),yl:['\u2212100','0','100','200','300','400'],title:'Solar Wind Velocity (RTN Frame)',ylabel:'Vsw(km/s)',ylx:44,
  series:[{v:Vr,c:'#f00',nm:'vr'},{v:Vt,c:'#008000',nm:'vt'},{v:Vn,c:'#00f',nm:'vn'}],
  legend:{x:1604,y:1979,w:72,tx:47,items:[['Vr','#f00'],['Vt','#008000'],['Vn','#00f']]}});
tsPanel({name:'plasma-beta-chart',y:2305.7,ymin:0.8,ymax:1.6,yt:fmtRange(0.8,1.6,0.1),yl:['0.8','0.9','1.0','1.1','1.2','1.3','1.4','1.5','1.6'],title:'Plasma Beta',ylabel:'<tspan font-family="Liberation Serif,serif" font-style="italic">\u03b2</tspan><tspan font-size="9" dy="3" font-style="italic">p</tspan>',ylx:64,
  series:[{v:beta,c:'#00f',nm:'plasma-beta'}]});
tsPanel({name:'proton-density-chart',y:2639.3,ymin:150,ymax:190,yt:fmtRange(150,190,5),yl:['150','155','160','165','170','175','180','185','190'],title:'Proton Number Density',ylabel:'Np(#/cc)',ylx:56,
  series:[{v:density,c:'#00f',nm:'proton-density'}]});
tsPanel({name:'proton-temperature-chart',y:2973,ymin:0.2,ymax:0.3,yt:fmtRange(0.2,0.3,0.02),yl:['0.20','0.22','0.24','0.26','0.28','0.30'],title:'Proton Temperature and <tspan font-family="Liberation Serif,serif" font-style="italic">T</tspan><tspan font-family="Liberation Serif,serif" font-style="italic" font-size="14" dy="4">e</tspan><tspan dy="-4" font-family="Liberation Serif,serif" font-style="italic">/T</tspan><tspan font-family="Liberation Serif,serif" font-style="italic" font-size="14" dy="4">p</tspan>',ylabel:'Tp(10<tspan font-size="9" dy="-5">6</tspan><tspan dy="5">K)</tspan>',ylx:48,
  series:[{v:tp,c:'#00f',nm:'proton-temperature'}],
  legend:{x:122.4,y:2980.5,w:71,tx:44,items:[['Tp','#00f']]}});
</script>
</body></html>
